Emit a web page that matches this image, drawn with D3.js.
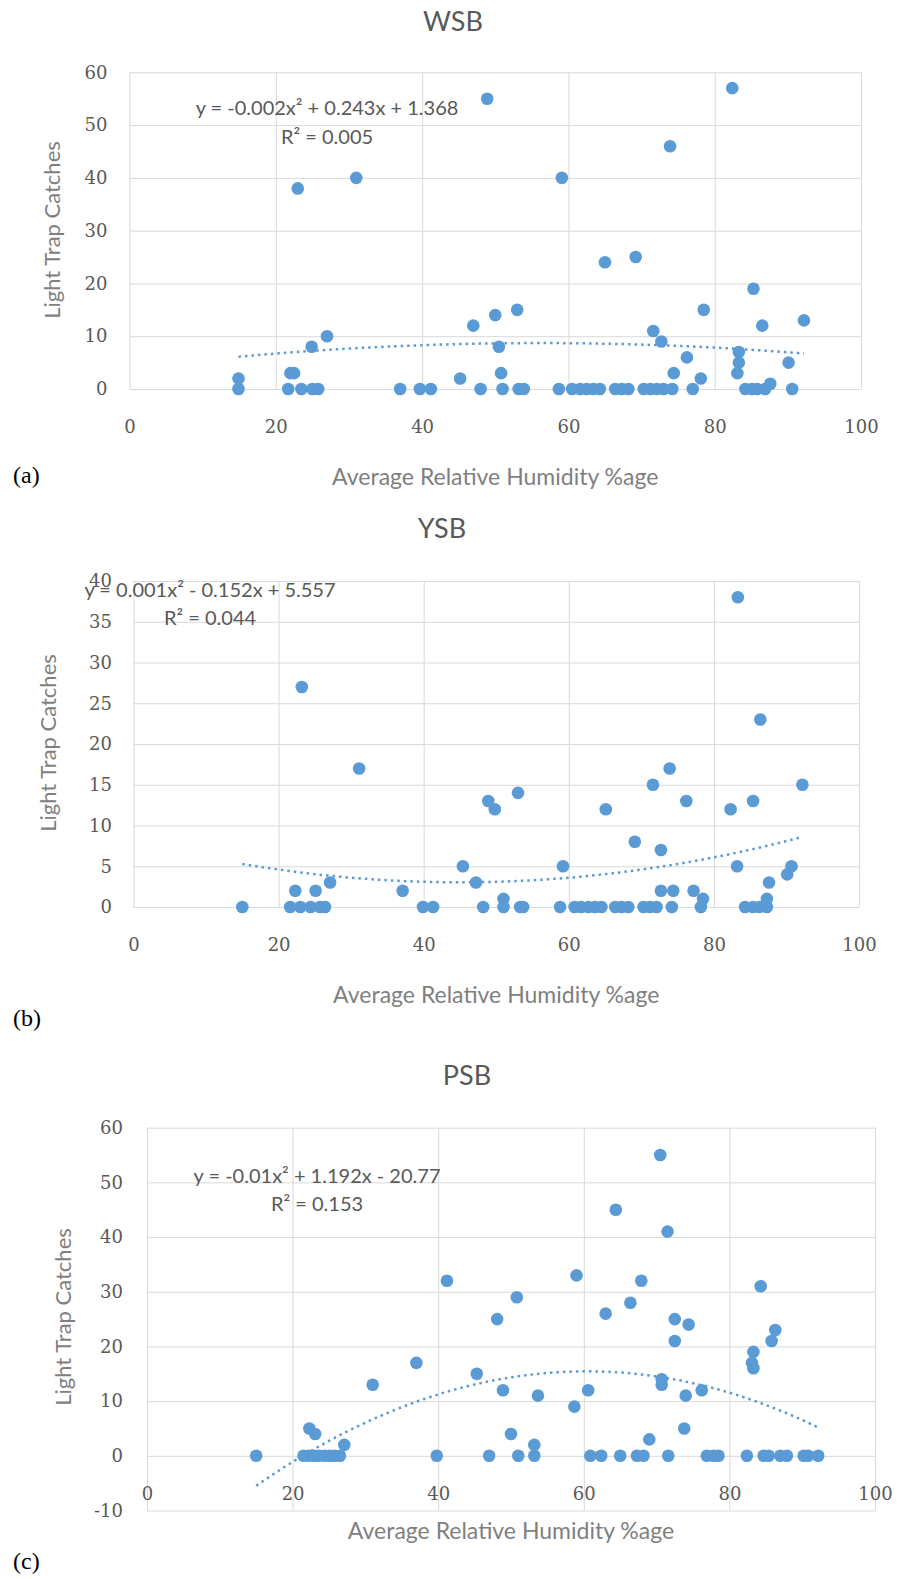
<!DOCTYPE html>
<html>
<head>
<meta charset="utf-8">
<script src="https://cdn.jsdelivr.net/npm/d3@7"></script>
<style>
  body { margin: 0; background: #fff; }
  text { font-family: Lato, "Open Sans", sans-serif; }
</style>
</head>
<body>
<div id="chart"></div>
<script>
// ---- data ----
const xTicks = [0, 20, 40, 60, 80, 100];

const wsbHumidity = [14.9, 14.9, 21.7, 22.0, 22.5, 23.0, 23.5, 24.9, 25.0, 25.8, 27.0, 31.0, 37.0, 39.7, 41.2,
  45.2, 47.0, 48.0, 48.9, 50.0, 50.5, 50.8, 51.0, 53.0, 53.2, 53.9, 58.7, 59.1, 60.5, 61.6, 62.5, 63.4, 64.3,
  65.0, 66.4, 67.3, 68.2, 69.2, 70.3, 71.2, 71.6, 72.1, 72.7, 73.0, 73.9, 74.2, 74.4, 76.2, 77.0, 78.1, 78.5,
  82.4, 83.1, 83.3, 83.3, 84.2, 85.1, 85.3, 85.8, 86.5, 86.9, 87.6, 90.1, 90.6, 92.2];
const wsbCatches = [0, 2, 0, 3, 3, 38, 0, 8, 0, 0, 10, 40, 0, 0, 0,
  2, 12, 0, 55, 14, 8, 3, 0, 15, 0, 0, 0, 40, 0, 0, 0, 0, 0,
  24, 0, 0, 0, 25, 0, 0, 11, 0, 9, 0, 46, 0, 3, 6, 0, 2, 15,
  57, 3, 5, 7, 0, 0, 19, 0, 12, 0, 1, 5, 0, 13];
const wsbYTicks = [0, 10, 20, 30, 40, 50, 60];

const ysbHumidity = [15.0, 21.6, 22.3, 23.0, 23.2, 24.4, 25.1, 25.7, 26.4, 27.1, 31.1, 37.1, 39.9, 41.3, 45.4,
  47.2, 48.2, 48.9, 49.8, 51.0, 51.0, 53.0, 53.3, 53.7, 58.8, 59.2, 60.8, 61.7, 62.7, 63.6, 64.5, 65.1, 66.4,
  67.3, 68.2, 69.1, 70.3, 71.2, 71.6, 72.1, 72.7, 72.7, 73.9, 74.2, 74.4, 76.2, 77.2, 78.2, 78.5, 82.3, 83.2,
  83.3, 84.3, 85.4, 85.4, 86.3, 86.4, 87.3, 87.3, 87.6, 90.1, 90.7, 92.2];
const ysbCatches = [0, 0, 2, 0, 27, 0, 2, 0, 0, 3, 17, 2, 0, 0, 5,
  3, 0, 13, 12, 1, 0, 14, 0, 0, 0, 5, 0, 0, 0, 0, 0, 12, 0,
  0, 0, 8, 0, 0, 15, 0, 7, 2, 17, 0, 2, 13, 2, 0, 1, 12, 5,
  38, 0, 13, 0, 0, 23, 1, 0, 3, 4, 5, 15];
const ysbYTicks = [0, 5, 10, 15, 20, 25, 30, 35, 40];

const psbHumidity = [15.0, 21.5, 22.2, 22.3, 23.0, 23.1, 23.6, 24.4, 25.1, 25.8, 26.5, 27.1, 31.0, 37.0, 39.8,
  41.2, 45.3, 47.0, 48.1, 48.9, 50.0, 50.8, 51.0, 53.2, 53.2, 53.7, 58.7, 59.0, 60.6, 60.9, 62.4, 63.0, 64.4,
  65.0, 66.4, 67.3, 67.9, 68.2, 69.0, 70.5, 70.7, 70.7, 71.5, 71.6, 72.5, 72.5, 73.8, 74.0, 74.4, 76.2, 76.9,
  77.8, 78.5, 82.4, 83.1, 83.3, 83.3, 84.3, 84.7, 85.4, 85.8, 86.3, 87.0, 87.9, 90.2, 90.8, 92.2];
const psbCatches = [0, 0, 0, 5, 0, 4, 0, 0, 0, 0, 0, 2, 13, 17, 0,
  32, 15, 0, 25, 12, 4, 29, 0, 2, 0, 11, 9, 33, 12, 0, 0, 26, 45,
  0, 28, 0, 32, 0, 3, 55, 14, 13, 41, 0, 25, 21, 5, 11, 24, 12, 0,
  0, 0, 0, 17, 16, 19, 31, 0, 0, 21, 23, 0, 0, 0, 0, 0];
const psbYTicks = [-10, 0, 10, 20, 30, 40, 50, 60];

const panels = [
  { title: "WSB", letter: "(a)", hum: wsbHumidity, catches: wsbCatches, yTicks: wsbYTicks,
    yTitle: "Light Trap Catches", eq: "y = -0.002x² + 0.243x + 1.368", r2: "R² = 0.005",
    left: 129.5, right: 861, top: 72.3, bottom: 389, yMin: 0, yMax: 60, tickPad: 22,
    titleX: 453, titleY: 22, yTitleX: 52, yTitleY: 230, eqX: 327, eqY: 108, r2Y: 137,
    xLabY: 427, xTitleY: 477, letterY: 475 },
  { title: "YSB", letter: "(b)", hum: ysbHumidity, catches: ysbCatches, yTicks: ysbYTicks,
    yTitle: "Light  Trap  Catches", eq: "y = 0.001x² - 0.152x + 5.557", r2: "R² = 0.044",
    left: 133.5, right: 859, top: 581, bottom: 907, yMin: 0, yMax: 40, tickPad: 21.5,
    titleX: 442, titleY: 529, yTitleX: 48, yTitleY: 743, eqX: 210, eqY: 590, r2Y: 618,
    xLabY: 945, xTitleY: 995, letterY: 1018 },
  { title: "PSB", letter: "(c)", hum: psbHumidity, catches: psbCatches, yTicks: psbYTicks,
    yTitle: "Light Trap Catches", eq: "y = -0.01x² + 1.192x - 20.77", r2: "R² = 0.153",
    left: 147, right: 875, top: 1127.7, bottom: 1510.5, yMin: -10, yMax: 60, tickPad: 24,
    titleX: 467, titleY: 1076, yTitleX: 63, yTitleY: 1317, eqX: 317, eqY: 1176, r2Y: 1204,
    xLabY: 1494, xTitleY: 1531, letterY: 1561 }
];

const svg = d3.select("#chart").append("svg")
  .attr("width", 897)
  .attr("height", 1579)
  .style("background", "#fff");

// least squares y = a x^2 + b x + c, like the spreadsheet trendline
function quadFit(xs, ys) {
  const s = [0, 0, 0, 0, 0], t = [0, 0, 0];
  xs.forEach((xv, i) => {
    for (let k = 0; k < 5; k++) s[k] += Math.pow(xv, k);
    for (let k = 0; k < 3; k++) t[k] += ys[i] * Math.pow(xv, k);
  });
  const m = [[s[4], s[3], s[2], t[2]], [s[3], s[2], s[1], t[1]], [s[2], s[1], s[0], t[0]]];
  for (let i = 0; i < 3; i++) {
    for (let j = i + 1; j < 3; j++) {
      const f = m[j][i] / m[i][i];
      for (let k = i; k < 4; k++) m[j][k] -= f * m[i][k];
    }
  }
  const c = m[2][3] / m[2][2];
  const b = (m[1][3] - m[1][2] * c) / m[1][1];
  const a = (m[0][3] - m[0][2] * c - m[0][1] * b) / m[0][0];
  return xv => a * xv * xv + b * xv + c;
}

const blue = "#5b9bd5";

panels.forEach(p => {
  const x = d3.scaleLinear().domain([0, 100]).range([p.left, p.right]);
  const y = d3.scaleLinear().domain([p.yMin, p.yMax]).range([p.bottom, p.top]);
  const g = svg.append("g");

  // horizontal gridlines + y tick labels (plain hyphen for negatives)
  const yAxisG = g.append("g")
    .attr("transform", "translate(" + p.left + ",0)")
    .call(d3.axisLeft(y).tickValues(p.yTicks).tickSize(-(p.right - p.left))
      .tickPadding(p.tickPad).tickFormat(d => String(d)));
  yAxisG.select(".domain").remove();
  yAxisG.selectAll("line").attr("stroke", "#d9d9d9");
  yAxisG.selectAll("text")
    .style("font-family", "'DejaVu Serif', serif")
    .style("font-size", "18px")
    .attr("fill", "#595959");

  // vertical gridlines
  const xGridG = g.append("g")
    .attr("transform", "translate(0," + p.bottom + ")")
    .call(d3.axisBottom(x).tickValues(xTicks).tickSize(-(p.bottom - p.top)).tickFormat(""));
  xGridG.select(".domain").remove();
  xGridG.selectAll("line").attr("stroke", "#d9d9d9");

  // x tick labels below the zero line
  const xAxisG = g.append("g")
    .attr("transform", "translate(0," + y(0) + ")")
    .call(d3.axisBottom(x).tickValues(xTicks).tickSize(0).tickPadding(p.xLabY - y(0) - 6.5));
  xAxisG.select(".domain").remove();
  xAxisG.selectAll("text")
    .style("font-family", "'DejaVu Serif', serif")
    .style("font-size", "18px")
    .attr("fill", "#595959");

  // trendline
  const fit = quadFit(p.hum, p.catches);
  const ext = d3.extent(p.hum);
  const xs = d3.range(ext[0], ext[1], 0.5).concat([ext[1]]);
  g.append("path")
    .datum(xs)
    .attr("fill", "none")
    .attr("stroke", blue)
    .attr("stroke-width", 2.5)
    .attr("stroke-dasharray", "2.5,4")
    .attr("d", d3.line().x(d => x(d)).y(d => y(fit(d))));

  // dots
  g.append("g")
    .selectAll("circle")
    .data(p.hum.map((h, i) => ({ h: h, c: p.catches[i] })))
    .join("circle")
      .attr("cx", d => x(d.h))
      .attr("cy", d => y(d.c))
      .attr("r", 6.3)
      .attr("fill", blue);

  // equation label
  g.append("text")
    .attr("x", p.eqX).attr("y", p.eqY).attr("dy", "0.35em")
    .attr("text-anchor", "middle")
    .style("font-size", "20px")
    .attr("fill", "#595959")
    .text(p.eq);
  g.append("text")
    .attr("x", p.eqX).attr("y", p.r2Y).attr("dy", "0.35em")
    .attr("text-anchor", "middle")
    .style("font-size", "20px")
    .attr("fill", "#595959")
    .text(p.r2);

  // titles
  g.append("text")
    .attr("x", p.titleX).attr("y", p.titleY).attr("dy", "0.35em")
    .attr("text-anchor", "middle")
    .style("font-size", "27px")
    .attr("fill", "#595959")
    .text(p.title);
  g.append("text")
    .attr("transform", "translate(" + p.yTitleX + "," + p.yTitleY + ") rotate(-90)")
    .attr("dy", "0.35em")
    .attr("text-anchor", "middle")
    .style("font-size", "22px")
    .attr("fill", "#7f7f7f")
    .text(p.yTitle);
  g.append("text")
    .attr("x", (p.left + p.right) / 2).attr("y", p.xTitleY).attr("dy", "0.35em")
    .attr("text-anchor", "middle")
    .style("font-size", "23px")
    .attr("fill", "#7f7f7f")
    .text("Average Relative Humidity %age");
  g.append("text")
    .attr("x", 13).attr("y", p.letterY).attr("dy", "0.35em")
    .style("font-family", "'Liberation Serif', serif")
    .style("font-size", "24px")
    .attr("fill", "#000")
    .text(p.letter);
});
</script>
</body>
</html>
